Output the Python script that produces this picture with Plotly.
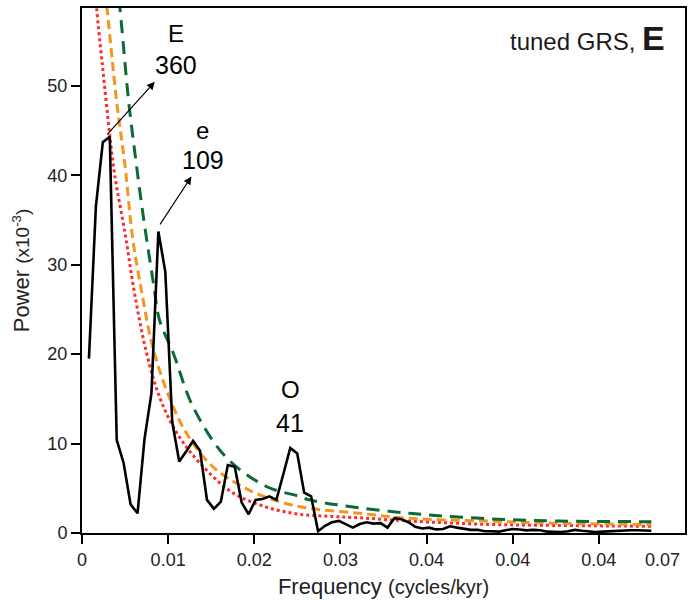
import plotly.graph_objects as go

# ---------------- data ----------------
freq_step = 0.000806
power = [19.5, 36.5, 43.7, 44.3, 10.4, 7.8, 3.2, 2.2, 10.5, 15.6,
         33.7, 29.2, 12.4, 8.0, 9.1, 10.3, 9.2, 3.7, 2.7, 3.5,
         7.6, 7.4, 3.4, 2.1, 3.7, 3.8, 4.1, 3.7, 6.6, 9.5,
         8.9, 4.5, 4.1, 0.2, 0.8, 1.2, 1.35, 1.0, 0.6, 1.0,
         1.2, 1.05, 1.1, 0.6, 1.65, 1.55, 1.2, 0.7, 0.5, 0.6,
         0.4, 0.45, 0.75, 0.6, 0.45, 0.35, 0.35, 0.2, 0.2, 0.15,
         0.3, 0.45, 0.4, 0.3, 0.35, 0.3, 0.15, 0.1, 0.1, 0.2,
         0.35, 0.25, 0.15, 0.1, 0.15, 0.2, 0.2, 0.25, 0.3, 0.3,
         0.25, 0.25]
freq = [round((i + 1) * freq_step, 6) for i in range(len(power))]

red_f = [0.0015, 0.0017, 0.0024, 0.0032, 0.0038, 0.0050, 0.0061, 0.0075, 0.0090,
         0.0110, 0.0137, 0.0175, 0.0214, 0.0252, 0.0290, 0.0322, 0.0380, 0.0469,
         0.0550, 0.0661]
red_p = [62.0, 58.7, 52.0, 44.7, 40.0, 33.5, 26.8, 20.1, 15.2,
         11.2, 7.8, 4.5, 2.9, 2.1, 1.85, 1.7, 1.34, 0.97,
         0.85, 0.75]

orange_f = [0.0025, 0.0029, 0.0040, 0.0050, 0.0059, 0.0070, 0.0081, 0.0098, 0.0121,
            0.0152, 0.0194, 0.0233, 0.0264, 0.0322, 0.0380, 0.0469, 0.0550, 0.0661]
orange_p = [62.0, 58.7, 48.4, 41.0, 32.8, 26.6, 21.2, 16.0, 11.2,
            7.4, 4.8, 3.4, 2.76, 2.2, 1.64, 1.34, 1.1, 0.95]

green_f = [0.0040, 0.0044, 0.0054, 0.0061, 0.0071, 0.0083, 0.0090, 0.0106, 0.0129,
           0.0167, 0.0214, 0.0252, 0.0264, 0.0303, 0.0380, 0.0463, 0.0553, 0.0661]
green_p = [62.0, 58.7, 48.4, 42.8, 35.5, 27.9, 23.8, 20.1, 14.1,
           8.5, 5.2, 4.1, 3.7, 3.06, 2.2, 1.64, 1.34, 1.27]

x_tickvals = [0, 0.01, 0.02, 0.03, 0.04, 0.05, 0.06, 0.07]
x_ticktext = ["0", "0.01", "0.02", "0.03", "0.04", "0.04", "0.04", "0.07"]
y_tickvals = [0, 10, 20, 30, 40, 50]

peak_labels = [("E", "360"), ("e", "109"), ("O", "41")]
# ---------------------------------------

FONT = "Liberation Sans, Arial, Helvetica, sans-serif"

fig = go.Figure()
fig.add_trace(go.Scatter(x=red_f, y=red_p, mode="lines", line_shape="spline",
                         line=dict(color="#ff2b2b", width=3, dash="dot"), hoverinfo="skip"))
fig.add_trace(go.Scatter(x=orange_f, y=orange_p, mode="lines", line_shape="spline",
                         line=dict(color="#f7941d", width=3, dash="9px,5px"), hoverinfo="skip"))
fig.add_trace(go.Scatter(x=green_f, y=green_p, mode="lines", line_shape="spline",
                         line=dict(color="#0b6b37", width=3, dash="13px,8px"), hoverinfo="skip"))
fig.add_trace(go.Scatter(x=freq, y=power, mode="lines",
                         line=dict(color="black", width=2.6), hoverinfo="skip"))

ann = []
# peak labels
lab_pos = [(0.01086, 55.9, 52.35), (0.01404, 44.95, 41.65), (0.02417, 16.0, 12.3)]
for (lt, num), (lx, ly1, ly2) in zip(peak_labels, lab_pos):
    ann.append(dict(x=lx, y=ly1, text=lt, showarrow=False, xref="x", yref="y",
                    font=dict(family=FONT, size=24, color="black")))
    ann.append(dict(x=lx, y=ly2, text=num, showarrow=False, xref="x", yref="y",
                    font=dict(family=FONT, size=25, color="black")))
# arrows
for (hx, hy, tx, ty) in [(0.00845, 50.45, 0.00278, 44.4), (0.0127, 39.85, 0.00895, 34.34)]:
    ann.append(dict(x=hx, y=hy, ax=tx, ay=ty, xref="x", yref="y", axref="x", ayref="y",
                    text="", showarrow=True, arrowhead=2, arrowsize=1.3, arrowwidth=1.2,
                    arrowcolor="black"))
# panel label
ann.append(dict(x=1, y=1, xref="paper", yref="paper", xanchor="right", yanchor="middle",
                xshift=-18, yshift=-30, showarrow=False,
                text="tuned GRS, <b><span style='font-size:34px'>E</span></b>",
                font=dict(family=FONT, size=24, color="#1a1a1a")))
# last x tick label
ann.append(dict(x=1, y=0, xref="paper", yref="paper", xanchor="right", yanchor="middle",
                xshift=-3, yshift=-27, showarrow=False, text=x_ticktext[-1],
                font=dict(family=FONT, size=18, color="#222")))

fig.update_layout(
    width=692, height=600,
    margin=dict(l=82, r=5, t=8, b=67),
    paper_bgcolor="white", plot_bgcolor="white",
    showlegend=False,
    font=dict(family=FONT, size=18, color="#222"),
    annotations=ann,
)
fig.update_xaxes(range=[0, 0.07], tickvals=x_tickvals[:-1], ticktext=x_ticktext[:-1],
                 showgrid=False, zeroline=False, showline=True, mirror=True,
                 linecolor="black", linewidth=2, ticks="outside", ticklen=9, tickwidth=2,
                 tickcolor="black", tickfont=dict(size=18),
                 title=dict(text="Frequency <span style='font-size:20px'>(cycles/kyr)</span>",
                            font=dict(size=22), standoff=10))
fig.update_yaxes(range=[0, 58.7], tickvals=y_tickvals,
                 showgrid=False, zeroline=False, showline=True, mirror=True,
                 linecolor="black", linewidth=2, ticks="outside", ticklen=9, tickwidth=2,
                 tickcolor="black", tickfont=dict(size=18),
                 title=dict(text="Power <span style='font-size:19px'>(x10<sup>-3</sup>)</span>",
                            font=dict(size=22), standoff=12))

fig.write_html("out.html")
